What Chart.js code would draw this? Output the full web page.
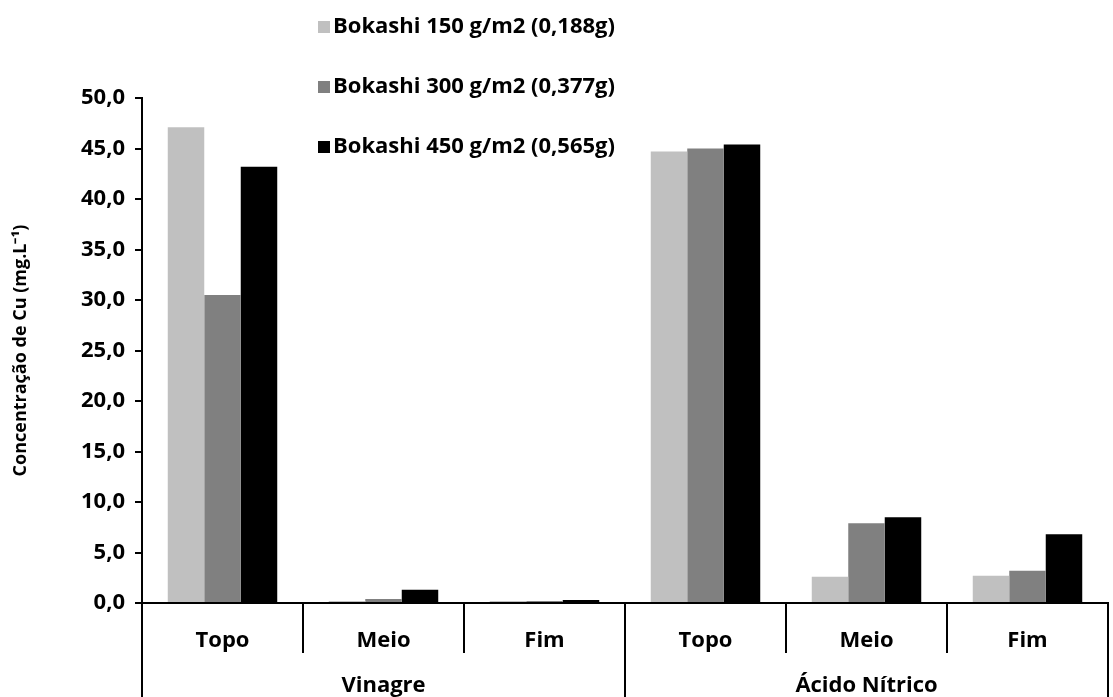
<!DOCTYPE html>
<html>
<head>
<meta charset="utf-8">
<script src="https://cdn.jsdelivr.net/npm/chart.js@4.4.1/dist/chart.umd.min.js"></script>
<style>
    body { margin: 0; background: #fff; }
    #chart-cont { width: 1113px; height: 697px; }
</style>
</head>
<body>
<div id="chart-cont"><canvas id="cu-chart"></canvas></div>
<script>
const categories = ["Topo", "Meio", "Fim", "Topo", "Meio", "Fim"];
const groups = ["Vinagre", "Ácido Nítrico"];
const seriesNames = ["Bokashi 150 g/m2 (0,188g)", "Bokashi 300 g/m2 (0,377g)", "Bokashi 450 g/m2 (0,565g)"];
const bokashi150 = [47.1, 0.2, 0.2, 44.7, 2.6, 2.7];
const bokashi300 = [30.5, 0.4, 0.2, 45.0, 7.9, 3.2];
const bokashi450 = [43.2, 1.3, 0.3, 45.4, 8.5, 6.8];
const yTicks = [0, 5, 10, 15, 20, 25, 30, 35, 40, 45, 50];

const colors = ["#c0c0c0", "#808080", "#000000"];
const fontFamily = "'Open Sans', sans-serif";
const boldFont = (size) => ({ family: fontFamily, size: size, weight: "bold" });

// legend is drawn by hand, stacked vertically inside the plot like the original
const manualLegend = {
    id: "manualLegend",
    afterDraw(chart) {
        const ctx = chart.ctx;
        ctx.save();
        ctx.font = "bold 22px " + fontFamily;
        ctx.textBaseline = "middle";
        ctx.textAlign = "left";
        chart.data.datasets.forEach((ds, i) => {
            const y = 27 + i * 60;
            ctx.fillStyle = ds.backgroundColor;
            ctx.fillRect(318, y - 6, 12, 12);
            ctx.fillStyle = "#000";
            ctx.fillText(ds.label, 333, y);
        });
        ctx.restore();
    }
};

// separators of the two-level category axis
const categoryDividers = {
    id: "categoryDividers",
    afterDraw(chart) {
        const ctx = chart.ctx;
        const x = chart.scales.x;
        const area = chart.chartArea;
        const bottom = chart.height;
        ctx.save();
        ctx.strokeStyle = "#000";
        ctx.lineWidth = 2;
        const perGroup = categories.length / groups.length;
        for (let i = 0; i <= categories.length; i++) {
            let px;
            if (i === 0) px = area.left;
            else if (i === categories.length) px = area.right;
            else px = (x.getPixelForValue(i - 1) + x.getPixelForValue(i)) / 2;
            const end = (i % perGroup === 0) ? bottom : area.bottom + 50;
            ctx.beginPath();
            ctx.moveTo(px, area.bottom);
            ctx.lineTo(px, end);
            ctx.stroke();
        }
        ctx.restore();
    }
};

new Chart("cu-chart", {
    type: "bar",
    data: {
        labels: categories,
        datasets: [
            { label: seriesNames[0], data: bokashi150, backgroundColor: colors[0] },
            { label: seriesNames[1], data: bokashi300, backgroundColor: colors[1] },
            { label: seriesNames[2], data: bokashi450, backgroundColor: colors[2] }
        ]
    },
    options: {
        responsive: true,
        maintainAspectRatio: false,
        animation: false,
        datasets: { bar: { categoryPercentage: 0.68, barPercentage: 1.0, borderWidth: 0 } },
        layout: { padding: { top: 98, right: 5, left: 0, bottom: 0 } },
        plugins: {
            legend: { display: false },
            tooltip: { enabled: false }
        },
        scales: {
            x: {
                type: "category",
                position: "bottom",
                grid: { display: false, drawTicks: false },
                border: { display: true, color: "#000", width: 2 },
                ticks: { color: "#000", font: boldFont(22), padding: 25, maxRotation: 0 },
                afterFit: (scale) => { scale.height = 50; }
            },
            x2: {
                type: "category",
                position: "bottom",
                labels: groups,
                offset: true,
                grid: { display: false, drawTicks: false },
                border: { display: false },
                ticks: { color: "#000", font: boldFont(22), padding: 20, maxRotation: 0 },
                afterFit: (scale) => { scale.height = 44; }
            },
            y: {
                min: 0,
                max: 50,
                afterBuildTicks: (scale) => { scale.ticks = yTicks.map(v => ({ value: v })); },
                grid: { drawOnChartArea: false, color: "#000", lineWidth: 2, tickLength: 7 },
                border: { display: true, color: "#000", width: 2 },
                ticks: {
                    color: "#000",
                    font: boldFont(22),
                    padding: 10,
                    callback: (v) => v.toFixed(1).replace(".", ",")
                },
                title: {
                    display: true,
                    text: "Concentração de Cu (mg.L⁻¹)",
                    color: "#000",
                    font: boldFont(18),
                    padding: { top: 10, bottom: 0 }
                },
                afterFit: (scale) => { scale.width = 142; }
            }
        }
    },
    plugins: [manualLegend, categoryDividers]
});
</script>
</body>
</html>
